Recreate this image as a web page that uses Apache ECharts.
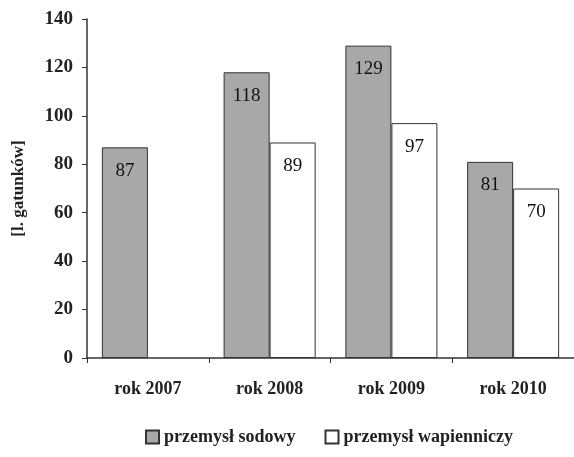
<!DOCTYPE html>
<html><head><meta charset="utf-8">
<script src="https://cdn.jsdelivr.net/npm/echarts@6/dist/echarts.min.js"></script>
<style>html,body{margin:0;padding:0;background:#fff}#c{width:574px;height:457px}</style>
</head><body><div id="c"></div>
<script>
var categories = ['rok 2007', 'rok 2008', 'rok 2009', 'rok 2010'];
var sodowy = [87, 118, 129, 81];
var wapienniczy = [null, 89, 97, 70];
var yTicks = [0, 20, 40, 60, 80, 100, 120, 140];

var font = '"Liberation Serif", "DejaVu Serif", serif';
var chart = echarts.init(document.getElementById('c'));
chart.setOption({
  animation: false,
  textStyle: { fontFamily: font },
  grid: { left: 87, right: -5, top: 19, bottom: 99, containLabel: false },
  legend: {
    bottom: 6, left: 140,
    icon: 'rect',
    itemWidth: 13, itemHeight: 13, itemGap: 29,
    textStyle: { fontFamily: font, fontSize: 18, fontWeight: 'bold', color: '#222' },
    data: ['przemysł sodowy', 'przemysł wapienniczy']
  },
  xAxis: {
    type: 'category', data: categories,
    axisLine: { lineStyle: { color: '#333', width: 1.5 } },
    axisTick: { show: true, alignWithLabel: false, length: 5, lineStyle: { color: '#333' } },
    axisLabel: { fontFamily: font, fontSize: 18, fontWeight: 'bold', color: '#222', margin: 22 }
  },
  yAxis: {
    type: 'value', min: yTicks[0], max: yTicks[yTicks.length - 1], interval: 20,
    name: '[l. gatunków]', nameLocation: 'middle', nameGap: 60, nameRotate: 90,
    nameTextStyle: { fontFamily: font, fontSize: 17, fontWeight: 'bold', color: '#222' },
    axisLine: { show: true, lineStyle: { color: '#333', width: 1.5 } },
    axisTick: { show: true, length: 5, lineStyle: { color: '#333' } },
    splitLine: { show: false },
    axisLabel: { fontFamily: font, fontSize: 19, fontWeight: 'bold', color: '#222', margin: 14 }
  },
  series: [
    {
      name: 'przemysł sodowy', type: 'bar', data: sodowy,
      barWidth: 46, barGap: '0%',
      itemStyle: { color: '#a8a8a8', borderColor: '#333', borderWidth: 1 },
      label: { show: true, position: 'insideTop', distance: 14, fontFamily: font, fontSize: 19, color: '#111' }
    },
    {
      name: 'przemysł wapienniczy', type: 'bar', data: wapienniczy,
      barWidth: 46, barGap: '0%',
      itemStyle: { color: '#ffffff', borderColor: '#333', borderWidth: 1 },
      label: { show: true, position: 'insideTop', distance: 14, fontFamily: font, fontSize: 19, color: '#111' }
    }
  ]
});
</script></body></html>
